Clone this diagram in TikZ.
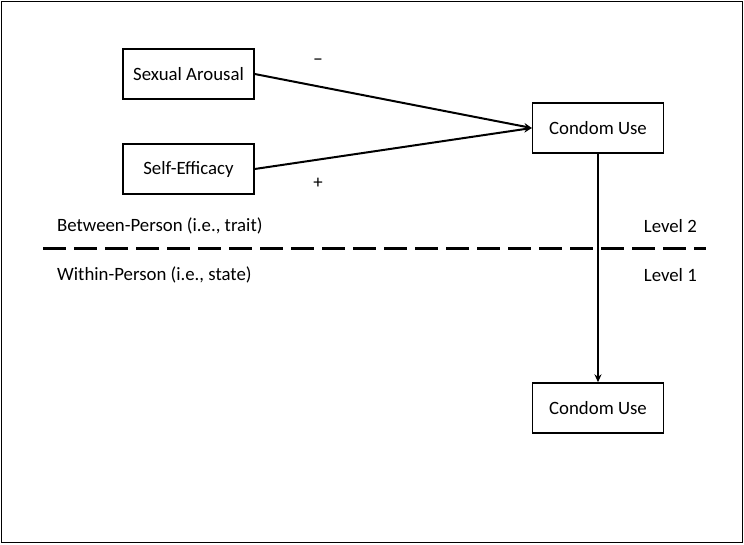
\documentclass[tikz,border=0pt]{standalone}
\usepackage{fontspec}
\setmainfont{Carlito}
\usetikzlibrary{arrows.meta}
\begin{document}
\begin{tikzpicture}[x=1pt,y=-1pt,
  box/.style={draw,line width=1.4pt,minimum width=131pt,minimum height=50pt,inner sep=0pt,font=\fontsize{18.8}{22}\selectfont},
  lbl/.style={font=\fontsize{18.8}{22}\selectfont,inner sep=0pt},
  conn/.style={line width=2pt,-{Stealth[length=8pt,width=7pt]}}]
\useasboundingbox (0,0) rectangle (744,544);
\draw[line width=1pt] (1,1) rectangle (742,542);
\node[box] (sa) at (188.5,74) {Sexual Arousal};
\node[box] (se) at (188.5,169) {Self-Efficacy};
\node[box] (cu1) at (598,128) {Condom Use};
\node[box] (cu2) at (598,408) {Condom Use};
\draw[conn] (sa.east) -- (cu1.west);
\draw[conn] (se.east) -- (cu1.west);
\draw[conn] (cu1.south) -- (cu2.north);
\node[lbl] (minus) at (318,62) {−};
\node[lbl] (plus) at (318,183) {+};
\coordinate (dl) at (43,248);
\coordinate (dr) at (706,248);
\draw[line width=3pt,dash pattern=on 23pt off 8pt] (dl) -- (dr);
\node[lbl,anchor=west] (btw) at (57,226) {Between-Person (i.e., trait)};
\node[lbl,anchor=east] (l2) at (697,226) {Level 2};
\node[lbl,anchor=west] (wth) at (57,275) {Within-Person (i.e., state)};
\node[lbl,anchor=east] (l1) at (697,275) {Level 1};
\end{tikzpicture}
\end{document}
